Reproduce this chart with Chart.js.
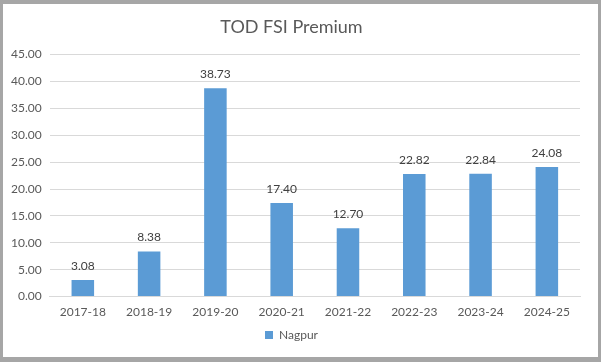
<!DOCTYPE html>
<html>
<head>
<meta charset="utf-8">
<script src="https://cdn.jsdelivr.net/npm/chart.js@4"></script>
<style>
  html, body { margin: 0; padding: 0; background: #a6a6a6; }
  body { width: 601px; height: 362px; position: relative; overflow: hidden; }
  #box { position: absolute; left: 3px; top: 4px; width: 595px; height: 353px; background: #fff; }
</style>
</head>
<body>
<div id="box"><canvas id="fsi-chart" width="595" height="353"></canvas></div>
<script>
// TOD FSI premium by year
const years = ['2017-18', '2018-19', '2019-20', '2020-21', '2021-22', '2022-23', '2023-24', '2024-25'];
const nagpur = [3.08, 8.38, 38.73, 17.40, 12.70, 22.82, 22.84, 24.08];

const textColor = '#595959';
const fontFamily = 'Lato, "Open Sans", sans-serif';

// simple value labels above each bar
const barLabels = {
    id: 'barLabels',
    afterDatasetsDraw(chart) {
        const c = chart.ctx;
        c.save();
        c.fillStyle = '#404040';
        c.font = '12px ' + fontFamily;
        c.textAlign = 'center';
        c.textBaseline = 'bottom';
        chart.getDatasetMeta(0).data.forEach((bar, i) => {
            c.fillText(nagpur[i].toFixed(2), bar.x, bar.y - 8);
        });
        c.restore();
    }
};

const ctx = document.getElementById('fsi-chart').getContext('2d');

new Chart(ctx, {
    type: 'bar',
    data: {
        labels: years,
        datasets: [{
            label: 'Nagpur',
            data: nagpur,
            backgroundColor: '#5b9bd5',
            categoryPercentage: 1,
            barPercentage: 0.34
        }]
    },
    options: {
        responsive: false,
        animation: false,
        layout: { padding: { left: 0, right: 18, top: 4, bottom: 6 } },
        plugins: {
            title: {
                display: true,
                text: 'TOD FSI Premium',
                color: textColor,
                font: { family: fontFamily, size: 18, weight: 'normal' },
                padding: { top: 8, bottom: 17 }
            },
            legend: {
                position: 'bottom',
                labels: {
                    color: textColor,
                    font: { family: fontFamily, size: 12 },
                    boxWidth: 8,
                    boxHeight: 8,
                    padding: 10
                }
            },
            tooltip: { enabled: false }
        },
        scales: {
            x: {
                grid: { display: false },
                border: { color: '#d9d9d9' },
                ticks: { color: textColor, font: { family: fontFamily, size: 12 }, padding: 0 }
            },
            y: {
                min: 0,
                max: 45,
                ticks: {
                    stepSize: 5,
                    color: textColor,
                    font: { family: fontFamily, size: 12 },
                    padding: 8,
                    callback: v => v.toFixed(2)
                },
                grid: { color: '#d9d9d9', drawTicks: false },
                border: { display: false }
            }
        }
    },
    plugins: [barLabels]
});
</script>
</body>
</html>
